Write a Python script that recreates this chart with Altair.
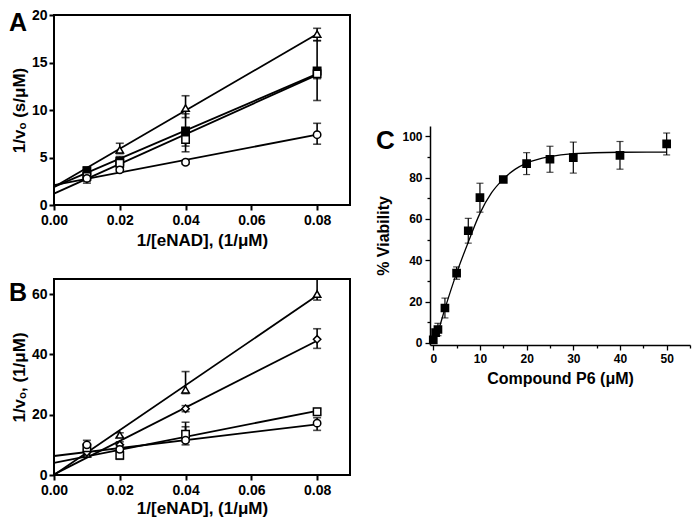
import altair as alt
import pandas as pd

FONT = "Liberation Sans"
W, H = 684, 511

# ---------------- Panel A : 1/v0 (s/uM) vs 1/[eNAD] ----------------
a_x = [0.01, 0.02, 0.04, 0.08]
a_names = ["tri", "fsq", "osq", "cir"]
a_y = {"tri": [3.3, 5.8, 10.2, 18.0], "fsq": [3.6, 4.6, 7.8, 14.1],
       "osq": [3.0, 4.4, 6.9, 13.8], "cir": [2.8, 3.7, 4.5, 7.4]}
a_lo = {"tri": [2.9, 5.4, 9.2, 17.3], "fsq": [2.3, 4.1, 5.6, 11.0],
        "osq": [2.7, 4.1, 6.2, 13.3], "cir": [2.5, 3.5, 4.3, 6.4]}
a_hi = {"tri": [3.7, 6.5, 11.5, 18.6], "fsq": [4.0, 5.1, 9.6, 17.3],
        "osq": [3.3, 4.7, 7.5, 14.3], "cir": [3.1, 3.9, 4.7, 8.6]}
a_fit_x = [0.0, 0.08]
a_fit = {"tri": [1.9, 18.0], "fsq": [1.9, 13.8], "osq": [1.2, 13.7], "cir": [2.1, 7.4]}

# ---------------- Panel B ----------------
b_x = [0.01, 0.02, 0.04, 0.08]
b_names = ["tri", "dia", "osq", "cir"]
b_y = {"tri": [7.0, 13.3, 28.3, 60.0], "dia": [7.5, 10.0, 22.0, 45.0],
       "osq": [9.0, 6.5, 13.5, 21.0], "cir": [10.0, 8.5, 11.5, 17.2]}
b_lo = {"tri": [6.0, 12.5, 27.0, 58.0], "dia": [6.5, 9.0, 21.0, 42.0],
        "osq": [8.0, 5.2, 11.0, 20.0], "cir": [8.5, 7.5, 10.0, 14.8]}
b_hi = {"tri": [8.0, 14.0, 34.3, 65.0], "dia": [8.5, 11.0, 23.0, 48.5],
        "osq": [10.0, 7.8, 16.0, 22.0], "cir": [11.5, 9.5, 17.5, 19.0]}
b_fit_x = [0.0, 0.08]
b_fit = {"tri": [0.0, 59.5], "dia": [0.2, 44.5], "osq": [4.0, 21.3], "cir": [6.3, 16.8]}

# ---------------- Panel C : viability ----------------
c_x = [0, 0.5, 1, 2.5, 5, 7.5, 10, 15, 20, 25, 30, 40, 50]
c_y = [1.5, 5.0, 6.5, 16.9, 33.8, 54.3, 70.3, 79.1, 86.8, 88.9, 89.7, 90.8, 96.3]
c_err = [1.0, 1.5, 3.0, 4.8, 3.0, 6.0, 7.0, 1.0, 5.3, 6.3, 7.5, 6.7, 5.3]
c_curve_x = [0, 1, 2.5, 5, 7.5, 10, 12.5, 15, 17.5, 20, 25, 30, 40, 50]
c_curve_y = [0.5, 5.5, 16.6, 33.8, 48.8, 62.7, 72.7, 79.3, 84.0, 87.0, 90.2, 91.6, 92.3, 92.4]

# marker styles (shape, fill)
STYLE = {"tri": ("triangle-up", "white"), "fsq": ("square", "black"),
         "osq": ("square", "white"), "cir": ("circle", "white"),
         "dia": ("diamond", "white")}


def pts_df(xs, ys, los, his, names):
    rows = []
    for n in names:
        for x, y, lo, hi in zip(xs, ys[n], los[n], his[n]):
            rows.append({"s": n, "x": x, "y": y, "lo": lo, "hi": hi})
    return pd.DataFrame(rows)


def fit_df(xs, fits, names):
    rows = []
    for n in names:
        for x, y in zip(xs, fits[n]):
            rows.append({"s": n, "x": x, "y": y})
    return pd.DataFrame(rows)


def ax(**kw):
    base = dict(grid=False, labelFont=FONT, titleFont=FONT, labelFontWeight="bold",
                titleFontWeight="bold", labelColor="black", titleColor="black",
                tickColor="black", domainColor="black", labelFlush=False,
                labelOverlap=False)
    base.update(kw)
    return alt.Axis(**base)


def letter(txt, px, py, size):
    return alt.Chart(pd.DataFrame({"t": [txt]})).mark_text(
        font=FONT, fontWeight="bold", fontSize=size, align="left", baseline="top",
        color="black").encode(x=alt.value(px), y=alt.value(py), text="t:N")


def kinetic_panel(pts, fit, names, xdom, ydom, xsc, ysc, xax, yax, lab):
    def X(f):
        return alt.X(f, type="quantitative", scale=xsc, axis=xax)

    def Y(f):
        return alt.Y(f, type="quantitative", scale=ysc, axis=yax)

    frame = alt.Chart(pd.DataFrame({"k": [0]})).mark_rect(
        filled=False, stroke="black", strokeWidth=2).encode(
        x=alt.XDatum(xdom[0], type="quantitative", scale=xsc, axis=xax),
        x2=alt.X2Datum(xdom[1]),
        y=alt.YDatum(ydom[0], type="quantitative", scale=ysc, axis=yax),
        y2=alt.Y2Datum(ydom[1]))
    lines = alt.Chart(fit).mark_line(color="black", strokeWidth=1.8).encode(
        x=X("x"), y=Y("y"), detail="s:N")
    bars = alt.Chart(pts).mark_rule(color="black", strokeWidth=1.6).encode(
        x=X("x"), y=Y("lo"), y2=alt.Y2("hi"))
    cap_lo = alt.Chart(pts).mark_tick(orient="horizontal", size=8, thickness=1.6,
                                      color="black").encode(x=X("x"), y=Y("lo"))
    cap_hi = alt.Chart(pts).mark_tick(orient="horizontal", size=8, thickness=1.6,
                                      color="black").encode(x=X("x"), y=Y("hi"))
    layers = [frame, lines, bars, cap_lo, cap_hi]
    for n in names:
        shape, fill = STYLE[n]
        layers.append(alt.Chart(pts).transform_filter(alt.datum.s == n).mark_point(
            shape=shape, filled=True, fill=fill, stroke="black", strokeWidth=1.5,
            size=55, opacity=1).encode(x=X("x"), y=Y("y")))
    layers.append(lab)
    return alt.layer(*layers)


# ----- Panel A -----
A_L, A_R, A_T, A_B = 46, 342, 7, 197
sA_x = alt.Scale(domain=[0, 0.09], range=[A_L, A_R], nice=False, zero=False)
sA_y = alt.Scale(domain=[0, 20], range=[A_B, A_T], nice=False, zero=False)
axA_x = ax(orient="bottom", offset=A_B - H, values=[0, 0.02, 0.04, 0.06, 0.08],
           format=".2f", labelFontSize=14, tickSize=5, tickWidth=2, labelPadding=3,
           domain=False, title="1/[eNAD], (1/μM)", titleFontSize=17, titlePadding=5)
axA_y = ax(orient="left", offset=-A_L, values=[0, 5, 10, 15, 20], labelFontSize=14,
           tickSize=5, tickWidth=2, labelPadding=2, domain=False,
           title="1/vₒ (s/μM)", titleFontSize=17, titlePadding=3)
panelA = kinetic_panel(pts_df(a_x, a_y, a_lo, a_hi, a_names),
                       fit_df(a_fit_x, a_fit, a_names), a_names,
                       [0, 0.09], [0, 20], sA_x, sA_y, axA_x, axA_y,
                       letter("A", 1, 3, 25))

# ----- Panel B -----
B_L, B_R, B_T, B_B = 46, 342, 271, 467
sB_x = alt.Scale(domain=[0, 0.09], range=[B_L, B_R], nice=False, zero=False)
sB_y = alt.Scale(domain=[0, 65], range=[B_B, B_T], nice=False, zero=False)
axB_x = ax(orient="bottom", offset=B_B - H, values=[0, 0.02, 0.04, 0.06, 0.08],
           format=".2f", labelFontSize=14, tickSize=5, tickWidth=2, labelPadding=3,
           domain=False, title="1/[eNAD], (1/μM)", titleFontSize=17, titlePadding=3)
axB_y = ax(orient="left", offset=-B_L, values=[0, 20, 40, 60], labelFontSize=14,
           tickSize=5, tickWidth=2, labelPadding=2, domain=False,
           title="1/vₒ, (1/μM)", titleFontSize=17, titlePadding=3)
panelB = kinetic_panel(pts_df(b_x, b_y, b_lo, b_hi, b_names),
                       fit_df(b_fit_x, b_fit, b_names), b_names,
                       [0, 0.09], [0, 65], sB_x, sB_y, axB_x, axB_y,
                       letter("B", 1, 273, 25))

# ----- Panel C -----
C_L, C_R, C_T, C_B = 422, 682, 118, 337
sC_x = alt.Scale(domain=[-0.7, 55], range=[C_L, C_R], nice=False, zero=False)
sC_y = alt.Scale(domain=[-1, 105], range=[C_B, C_T], nice=False, zero=False)
axC_x = ax(orient="bottom", offset=C_B - H, values=list(range(0, 56, 5)),
           labelExpr="datum.value % 10 === 0 ? datum.label : ''",
           tickSize={"condition": {"test": "datum.value % 10 === 0", "value": 5}, "value": 3},
           tickWidth=1.3, domainWidth=1.5, labelFontSize=12, labelPadding=3,
           title="Compound P6 (μM)", titleFontSize=16, titlePadding=6)
axC_y = ax(orient="left", offset=-C_L, values=list(range(0, 101, 10)),
           labelExpr="datum.value % 20 === 0 ? datum.label : ''",
           tickSize={"condition": {"test": "datum.value % 20 === 0", "value": 5}, "value": 3},
           tickWidth=1.3, domainWidth=1.5, labelFontSize=12, labelPadding=3,
           title="% Viability", titleFontSize=16, titlePadding=10)

c_df = pd.DataFrame({"x": c_x, "y": c_y, "err": c_err})
c_curve = pd.DataFrame({"x": c_curve_x, "y": c_curve_y})


def XC(f):
    return alt.X(f, type="quantitative", scale=sC_x, axis=axC_x)


def YC(f):
    return alt.Y(f, type="quantitative", scale=sC_y, axis=axC_y)


c_base = alt.Chart(c_df).transform_calculate(lo="datum.y - datum.err", hi="datum.y + datum.err")
panelC = alt.layer(
    alt.Chart(c_curve).mark_line(color="black", strokeWidth=1.3, interpolate="monotone").encode(
        x=XC("x"), y=YC("y")),
    c_base.mark_rule(color="black", strokeWidth=1.2).encode(x=XC("x"), y=YC("lo"), y2=alt.Y2("hi")),
    c_base.mark_tick(orient="horizontal", size=7, thickness=1.2, color="black").encode(
        x=XC("x"), y=YC("lo")),
    c_base.mark_tick(orient="horizontal", size=7, thickness=1.2, color="black").encode(
        x=XC("x"), y=YC("hi")),
    alt.Chart(c_df).mark_point(shape="square", filled=True, fill="black", stroke="black",
                               size=45, opacity=1).encode(x=XC("x"), y=YC("y")),
    letter("C", 368, 120, 26),
)

chart = alt.layer(panelA, panelB, panelC).resolve_scale(
    x="independent", y="independent"
).properties(
    width=W, height=H, padding=0, autosize=alt.AutoSizeParams(type="none")
).configure_view(stroke=None).configure_axis(grid=False)

chart.save("out.html", embed_options={"renderer": "svg", "actions": False})
